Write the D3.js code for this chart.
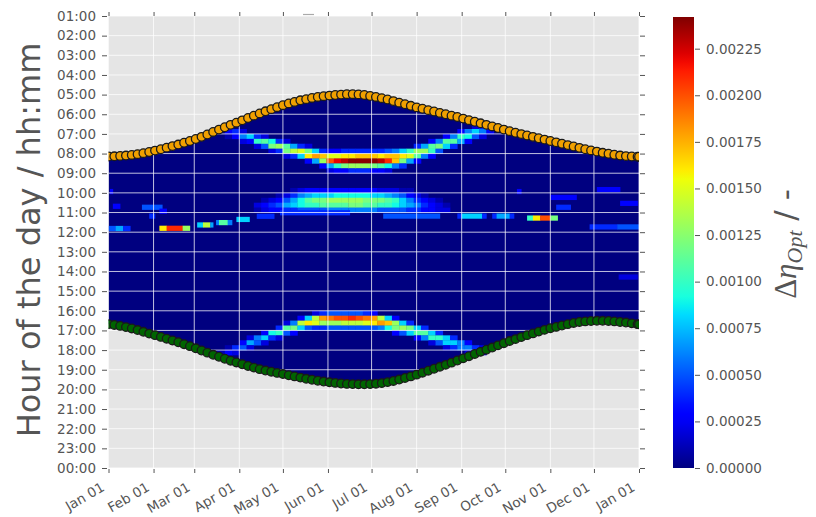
<!DOCTYPE html>
<html><head><meta charset="utf-8">
<script src="https://cdn.jsdelivr.net/npm/d3@7"></script>
<style>
body{margin:0;background:#fff;}
svg{display:block;font-family:"DejaVu Sans",sans-serif;}
</style>
</head><body>
<svg id="chart" width="816" height="517"></svg>
<script>
// ---------------- DATA ----------------
const monthLabels = ["Jan 01","Feb 01","Mar 01","Apr 01","May 01","Jun 01","Jul 01","Aug 01","Sep 01","Oct 01","Nov 01","Dec 01","Jan 01"];
const hourLabels = ["01:00","02:00","03:00","04:00","05:00","06:00","07:00","08:00","09:00","10:00","11:00","12:00",
  "13:00","14:00","15:00","16:00","17:00","18:00","19:00","20:00","21:00","22:00","23:00","00:00"];
const colorbarTicks = [0,0.00025,0.0005,0.00075,0.001,0.00125,0.0015,0.00175,0.002,0.00225];
const colorbarLabels = ["0.00000","0.00025","0.00050","0.00075","0.00100","0.00125","0.00150","0.00175","0.00200","0.00225"];
const colorMax = 0.00242;
const valueUnit = 1e-4;   // heat values below are given in units of 1e-4

// sample days (day of year) for sunrise / sunset markers
const sampleDays = d3.range(0, 365, 4).concat([365]);
// hour of the day (decimal hours)
const sunrise = [8.15,8.14,8.12,8.10,8.07,8.03,7.98,7.92,7.85,7.78,7.70,7.62,7.54,7.45,7.36,7.26,7.15,7.03,6.90,6.78,
  6.66,6.54,6.43,6.31,6.19,6.07,5.96,5.85,5.74,5.64,5.54,5.45,5.37,5.29,5.23,5.17,5.12,5.08,5.05,5.02,
  5.00,4.98,4.98,4.99,5.02,5.07,5.12,5.18,5.25,5.33,5.41,5.49,5.57,5.65,5.72,5.79,5.86,5.93,6.00,6.07,
  6.14,6.22,6.30,6.38,6.46,6.54,6.62,6.70,6.78,6.86,6.94,7.01,7.08,7.15,7.22,7.29,7.36,7.43,7.50,7.57,
  7.64,7.71,7.78,7.84,7.90,7.96,8.01,8.06,8.10,8.13,8.15,8.16,8.16];
const sunset = [16.68,16.72,16.77,16.83,16.90,16.98,17.07,17.16,17.24,17.33,17.42,17.51,17.60,17.70,17.80,17.91,18.02,18.13,18.24,18.34,
  18.44,18.54,18.63,18.72,18.81,18.89,18.97,19.04,19.10,19.16,19.22,19.28,19.34,19.40,19.46,19.51,19.56,19.60,19.64,19.67,
  19.70,19.72,19.73,19.74,19.74,19.73,19.71,19.68,19.63,19.57,19.50,19.42,19.34,19.25,19.15,19.05,18.95,18.85,18.75,18.64,
  18.53,18.42,18.31,18.20,18.09,17.98,17.87,17.76,17.65,17.54,17.44,17.34,17.24,17.15,17.06,16.97,16.89,16.82,16.75,16.68,
  16.62,16.57,16.54,16.52,16.51,16.51,16.52,16.54,16.57,16.60,16.64,16.68,16.69];

// band columns: [startDay, topHour, values (15-min cells downward) ...], column width 5 days
const morningBand = [
  [80,6.75,3,1],[85,6.75,4,3],[90,6.75,2,6,2],[95,7.0,8,3],[100,7.0,4,10,2],[105,7.0,2,11,5],
  [110,7.25,9,12,2],[115,7.25,4,13,4],[120,7.25,2,11,12,2],[125,7.5,7,14,4],[130,7.5,4,15,8],
  [135,7.5,2,12,16,3],[140,7.75,8,18,7],[145,7.75,4,17,13,3],[150,7.75,3,15,20,7,2],[155,7.75,3,15,22,10,3],
  [160,7.75,4,16,23,12,3],[165,7.75,4,16,24,13,4],[170,7.75,4,17,24,13,4],[175,7.75,4,17,24,13,4],
  [180,7.75,4,17,24,12,3],[185,7.75,4,16,23,11,3],[190,7.75,5,17,21,9,2],[195,7.75,6,17,17,6],
  [200,7.75,8,16,12,4],[205,7.75,10,15,7],[210,7.5,4,13,11,3],[215,7.5,7,13,6],[220,7.25,3,11,10,3],
  [225,7.25,6,12,5],[230,7.0,3,11,8],[235,7.0,6,11,4],[240,6.75,3,10,7],[245,6.75,6,9,3],
  [250,6.5,2,8,5],[255,6.5,4,6,2],[260,6.75,3]
];
const middayBand = [
  [100,10.5,2,1],[105,10.25,1,3,2],[110,10.25,2,4,3],[115,10.0,1,3,5,3],[120,10.0,2,5,7,4],
  [125,9.75,1,4,7,8,4],[130,9.75,2,6,9,9,5],[135,9.75,3,7,11,10,5],[140,9.75,3,8,12,10,5],
  [145,9.75,3,8,12,11,5],[150,9.75,3,8,13,11,6],[155,9.75,3,9,13,11,6],[160,9.75,3,9,13,11,6],
  [165,9.75,3,9,13,12,6],[170,9.75,3,9,13,12,6],[175,9.75,3,9,12,11,6],[180,9.75,3,8,12,11,6],
  [185,9.75,2,8,12,10,5],[190,9.75,2,7,11,10,5],[195,9.75,2,6,10,9,5],[200,9.75,1,5,8,8,5],
  [205,9.75,1,3,6,7,4],[210,10.0,2,4,6,4],[215,10.0,1,3,4,3],[220,10.25,2,3,3],[225,10.25,1,2,2],[230,10.5,1,2]
];
const eveningBand = [
  [75,18.0,1,2],[80,17.75,1,3,1],[85,17.75,4,2],[90,17.5,3,5],[95,17.25,2,7,2],[100,17.25,6,5],
  [105,17.0,3,8,2],[110,17.0,9,4],[115,16.75,4,10,2],[120,16.5,2,11,5],[125,16.5,6,12,3],
  [130,16.25,3,14,8],[135,16.25,8,16,5],[140,16.0,2,14,15,4],[145,16.0,4,18,13,4],[150,16.0,5,19,13,5],
  [155,16.0,5,20,13,5],[160,16.0,5,20,14,5],[165,16.0,5,21,14,5],[170,16.0,5,20,14,5],[175,16.0,4,19,15,5],
  [180,16.0,3,18,16,5],[185,16.25,14,18,6],[190,16.25,8,17,9],[195,16.25,3,13,12,3],[200,16.5,8,13,5],
  [205,16.5,4,12,8],[210,16.75,8,11,3],[215,16.75,4,11,6],[220,17.0,8,10,2],[225,17.0,4,10,5],
  [230,17.25,8,8,2],[235,17.25,4,8,4],[240,17.5,6,6],[245,17.5,3,6,2],[250,17.75,4,3],[255,17.75,2,2]
];
// isolated spots: [startDay, endDay, topHour, value]
const spots = [
  [35,40,11.67,16],[40,51,11.67,21],[51,56,11.67,13],
  [61,65,11.5,8],[65,70,11.5,14],[70,72,11.5,7],
  [74,76,11.38,6],[76,82,11.38,11],[82,85,11.38,6],
  [88,97,11.22,8],[102,114,11.06,4],[118,166,10.88,4],
  [0,5,11.68,5],[5,10,11.68,7],[10,15,11.68,4],
  [23,37,10.6,5],[28,32,11.05,4],[1,3,9.8,3],[3,8,10.55,3],[35,40,10.8,3],
  [189,228,11.05,5],
  [240,243,11.05,4],[243,257,11.05,8],[257,260,11.05,4],
  [264,267,11.05,4],[267,276,11.05,7],[276,279,11.05,4],
  [288,292,11.15,10],[292,297,11.15,16],[297,304,11.15,20],[304,309,11.15,12],
  [281,284,9.8,3],[304,322,10.1,3],[308,318,10.6,4],[336,352,9.7,3],[352,364,10.4,3],
  [331,350,11.6,4],[350,365,11.6,5],[351,364,14.15,2]
];

// ---------------- CHART ----------------
const svg = d3.select("#chart");
const plot = {left:108.5, right:639, top:16, bottom:468};
const start = new Date(2015,0,1), end = new Date(2016,0,1);
const dayDate = d => d3.timeDay.offset(start, d);
const x = d3.scaleTime().domain([start,end]).range([plot.left, plot.right]);
const y = d3.scaleLinear().domain([1,24]).range([plot.top, plot.bottom]);
const textColor = "#555555";

// jet colormap via linear scales
const jetR = d3.scaleLinear().domain([0,0.35,0.66,0.89,1]).range([0,0,1,1,0.5]).clamp(true);
const jetG = d3.scaleLinear().domain([0,0.125,0.375,0.64,0.91,1]).range([0,0,1,1,0,0]).clamp(true);
const jetB = d3.scaleLinear().domain([0,0.11,0.34,0.65,1]).range([0.5,1,1,0,0]).clamp(true);
const norm = d3.scaleLinear().domain([0,colorMax]).range([0,1]).clamp(true);
const jet = v => { const t = norm(v); return d3.rgb(255*jetR(t),255*jetG(t),255*jetB(t)).formatHex(); };

const defs = svg.append("defs");
defs.append("clipPath").attr("id","plotclip").append("rect")
  .attr("x",plot.left).attr("y",plot.top).attr("width",plot.right-plot.left).attr("height",plot.bottom-plot.top);

// background
svg.append("rect").attr("x",plot.left).attr("y",plot.top)
  .attr("width",plot.right-plot.left).attr("height",plot.bottom-plot.top).attr("fill","#e5e5e5");

const g = svg.append("g").attr("clip-path","url(#plotclip)");

// daylight area (zero-valued heat map)
const sun = sampleDays.map((d,i)=>({day:d, rise:sunrise[i], set:sunset[i]}));
g.append("path").datum(sun)
  .attr("d", d3.area().x(d=>x(dayDate(d.day))).y0(d=>y(d.rise)).y1(d=>y(d.set)))
  .attr("fill", jet(0));

// heat cells
const cells = [];
[morningBand, middayBand, eveningBand].forEach(band => band.forEach(col => {
  const [d0, h0, ...vals] = col;
  vals.forEach((v,k) => cells.push({d0:d0, d1:d0+5, h:h0+0.25*k, v:v*valueUnit}));
}));
spots.forEach(s => cells.push({d0:s[0], d1:s[1], h:s[2], v:s[3]*valueUnit}));
g.selectAll("rect.cell").data(cells).join("rect").attr("class","cell")
  .attr("x", d=>x(dayDate(d.d0))).attr("width", d=>x(dayDate(d.d1))-x(dayDate(d.d0))+0.3)
  .attr("y", d=>y(d.h)).attr("height", d=>y(d.h+0.25)-y(d.h)+0.3)
  .attr("fill", d=>jet(d.v));

// grid
const monthTicks = x.ticks(d3.timeMonth.every(1));
const hourTicks = d3.range(1,25);
g.selectAll("line.vg").data(monthTicks).join("line")
  .attr("x1",d=>x(d)).attr("x2",d=>x(d)).attr("y1",plot.top).attr("y2",plot.bottom)
  .attr("stroke","#fff").attr("stroke-opacity",0.75).attr("stroke-width",1);
g.selectAll("line.hg").data(hourTicks).join("line")
  .attr("y1",d=>y(d)).attr("y2",d=>y(d)).attr("x1",plot.left).attr("x2",plot.right)
  .attr("stroke","#fff").attr("stroke-opacity",0.75).attr("stroke-width",1);

// markers
g.selectAll("circle.rise").data(sun).join("circle")
  .attr("cx",d=>x(dayDate(d.day))).attr("cy",d=>y(d.rise)).attr("r",4.3)
  .attr("fill","#f0a000").attr("stroke","#1a1a1a").attr("stroke-width",1.3);
g.selectAll("circle.set").data(sun).join("circle")
  .attr("cx",d=>x(dayDate(d.day))).attr("cy",d=>y(d.set)).attr("r",4.3)
  .attr("fill","#006400").attr("stroke","#1a1a1a").attr("stroke-width",1.3);

// axes
const tickStyle = sel => { sel.select(".domain").remove(); sel.selectAll(".tick line").attr("stroke",textColor); };
const xb = svg.append("g").attr("transform",`translate(0,${plot.bottom})`)
  .call(d3.axisBottom(x).tickValues(monthTicks).tickSize(5).tickPadding(3).tickFormat(""));
tickStyle(xb);
xb.selectAll(".tick line").attr("y1",1).attr("y2",5);
const xt = svg.append("g").attr("transform",`translate(0,${plot.top})`)
  .call(d3.axisTop(x).tickValues(monthTicks).tickSize(4).tickFormat(""));
tickStyle(xt);
svg.selectAll("text.xl").data(monthTicks).join("text").attr("class","xl")
  .attr("x",d=>x(d)-3).attr("y",490).attr("text-anchor","end")
  .attr("transform",d=>`rotate(-30,${x(d)-3},490)`)
  .attr("fill",textColor).style("font-size","13.5px")
  .text((d,i)=>monthLabels[i]);

const yl = svg.append("g").attr("transform",`translate(${plot.left-1.5},0)`)
  .call(d3.axisLeft(y).tickValues(hourTicks).tickSize(5).tickPadding(6).tickFormat((d,i)=>hourLabels[i]));
tickStyle(yl);
yl.selectAll(".tick text").attr("fill",textColor).style("font-size","13.5px").style("font-family","DejaVu Sans");
const yr = svg.append("g").attr("transform",`translate(${plot.right+1},0)`)
  .call(d3.axisRight(y).tickValues(hourTicks).tickSize(5).tickFormat(""));
tickStyle(yr);

// small dash at top
svg.append("line").attr("x1",303).attr("x2",314).attr("y1",14.5).attr("y2",14.5)
  .attr("stroke","#aaa").attr("stroke-width",1.2);

// y label
svg.append("text").attr("transform","translate(40,240) rotate(-90)")
  .attr("text-anchor","middle").attr("fill",textColor).style("font-size","32px")
  .text("Hour of the day / hh:mm");

// colorbar
const cb = {x:673, w:21};
const cy = d3.scaleLinear().domain([0,colorMax]).range([plot.bottom, plot.top+1]);
const grad = defs.append("linearGradient").attr("id","jetgrad").attr("x1",0).attr("y1",1).attr("x2",0).attr("y2",0);
d3.range(0,1.0001,0.02).forEach(t => grad.append("stop").attr("offset",t).attr("stop-color",jet(t*colorMax)));
svg.append("rect").attr("x",cb.x).attr("y",cy(colorMax)).attr("width",cb.w)
  .attr("height",cy(0)-cy(colorMax)).attr("fill","url(#jetgrad)");
const cba = svg.append("g").attr("transform",`translate(${cb.x+cb.w},0)`)
  .call(d3.axisRight(cy).tickValues(colorbarTicks).tickSize(5).tickPadding(7).tickFormat((d,i)=>colorbarLabels[i]));
tickStyle(cba);
cba.selectAll(".tick line").attr("x1",1).attr("x2",6);
cba.selectAll(".tick text").attr("fill",textColor).style("font-size","13.5px").style("font-family","DejaVu Sans");

// colorbar label
const cl = svg.append("text").attr("transform","translate(796,244) rotate(-90)")
  .attr("text-anchor","middle").attr("fill",textColor).style("font-size","31px");
cl.append("tspan").style("font-family","Liberation Serif").text("Δ");
cl.append("tspan").style("font-family","Liberation Serif").style("font-style","italic").text("η");
cl.append("tspan").style("font-family","Liberation Serif").style("font-style","italic").style("font-size","22px").attr("dy",6).text("Opt");
cl.append("tspan").attr("dy",-6).style("font-family","DejaVu Sans").text(" / -");
</script>
</body></html>
